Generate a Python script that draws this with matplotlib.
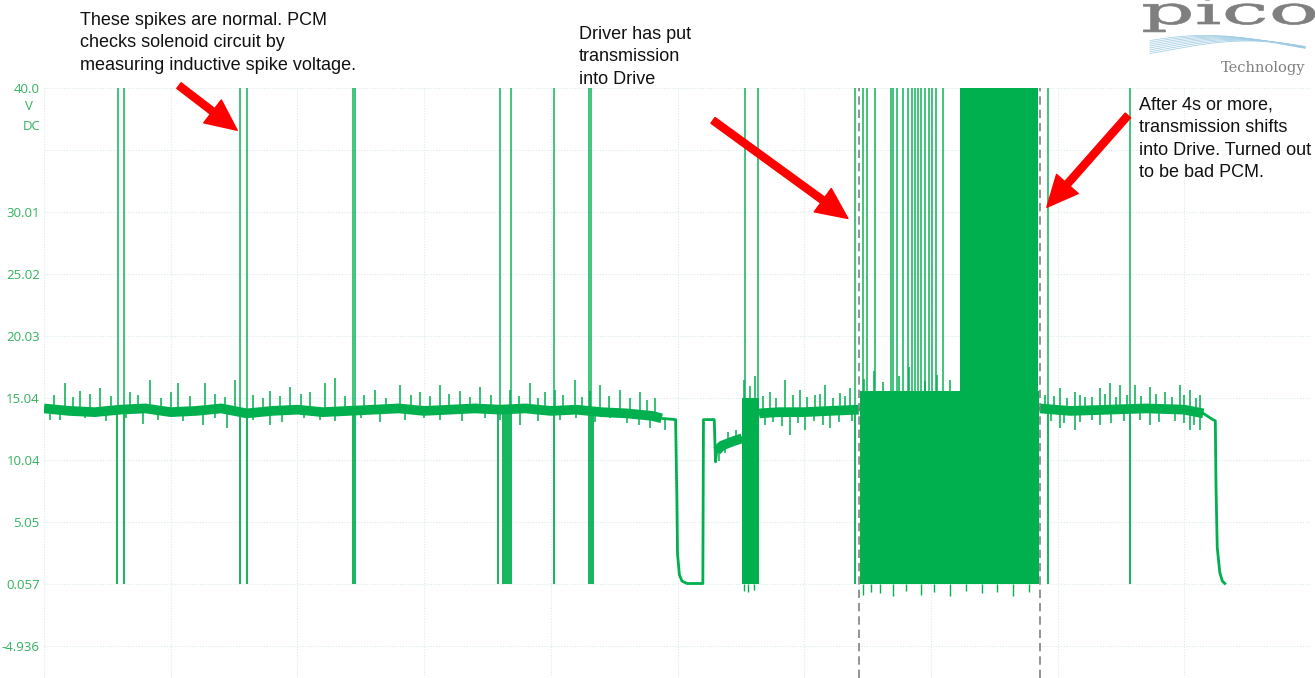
import numpy as np
import matplotlib.pyplot as plt
from matplotlib.patches import PathPatch
from matplotlib.textpath import TextPath
from matplotlib.font_manager import FontProperties
from matplotlib.transforms import Affine2D

plt.rcParams['font.family'] = ['Liberation Sans', 'DejaVu Sans']

W, H = 1315, 678

# --- scope trace (time in s, 2 s/div; volts) ---
trace_t = [0.0, 0.4, 0.8, 1.2, 1.6, 2.0, 2.4, 2.8, 3.2, 3.6, 4.0, 4.4, 4.8, 5.2, 5.6, 6.0,
           6.4, 6.8, 7.2, 7.6, 8.0, 8.4, 8.8, 9.2, 9.6, 9.75, 9.97,
           9.99, 10.00, 10.03, 10.07, 10.15, 10.40,
           10.41, 10.58, 10.60, 10.62, 10.70, 10.85, 11.02,
           11.29, 11.6, 12.0, 12.4, 12.86,
           15.72, 16.2, 16.8, 17.4, 18.0, 18.30, 18.45, 18.49, 18.50, 18.52, 18.56, 18.60, 18.64]
trace_v = [14.2, 14.0, 13.9, 14.1, 14.2, 13.9, 14.0, 14.2, 13.8, 14.0, 14.1, 13.9, 14.0, 14.1, 14.2, 14.0,
           14.1, 14.2, 14.1, 14.2, 14.0, 14.1, 13.9, 13.8, 13.6, 13.4, 13.3,
           7.0, 2.5, 0.8, 0.3, 0.1, 0.1,
           13.3, 13.3, 9.9, 10.8, 11.2, 11.5, 11.8,
           13.8, 13.9, 13.9, 14.0, 14.1,
           14.2, 14.0, 14.1, 14.2, 14.1, 13.8, 13.3, 13.2, 8.0, 3.0, 1.0, 0.3, 0.1]
noisy_spans = [(0.0, 9.75), (10.62, 11.02), (11.29, 12.86), (15.72, 18.30)]

# solenoid check spikes (clip at top of screen / drop to 0 V)
spike_up_t = [1.17, 1.26, 3.10, 3.20, 4.88, 4.91, 7.20, 7.37, 8.05, 8.60, 8.63,
              11.07, 11.27, 12.80, 12.93, 12.99, 13.12, 13.37, 13.40, 13.47, 13.56,
              13.64, 13.70, 13.75, 13.80, 13.84, 13.91, 13.97, 14.02, 14.08, 14.19,
              15.85, 17.14]
spike_down_t = [1.16, 1.26, 3.09, 3.20, 4.88, 4.91, 7.17, 7.25, 7.28, 7.31, 7.34, 7.37,
                8.05, 8.60, 8.63, 8.66, 12.80, 15.85, 17.14]
spike_top = 41.0
spike_floor = 0.05

# switching bursts (start, end, upper level)
burst_t0 = [11.02, 12.88]
burst_t1 = [11.29, 15.70]
burst_hi = [15.0, 15.6]
saturated_t0, saturated_t1 = 14.46, 15.69

# larger noise peaks riding on the supply level
peak_up_t = [0.33, 0.57, 0.88, 1.36, 1.67, 2.12, 2.54, 3.02, 3.57, 3.88, 4.20, 4.44, 4.59,
             5.22, 5.62, 5.94, 6.25, 6.57, 6.88, 7.36, 7.67, 7.91, 8.07, 8.38, 8.62, 8.78,
             9.09, 9.41, 9.65,
             10.80, 10.92,
             11.05, 11.15, 11.22,
             11.46, 11.70, 11.93, 12.17, 12.33, 12.57, 12.72,
             12.95, 13.10, 13.25, 13.50, 13.65, 13.90, 14.10, 14.30,
             15.80, 16.04, 16.27, 16.43, 16.67, 16.83, 16.99, 17.22, 17.46, 17.70, 17.93,
             18.09, 18.25]
peak_up_v = [16.25, 15.6, 15.84, 15.5, 16.49, 16.25, 16.25, 16.49, 15.6, 15.93, 15.5, 16.25, 16.65,
             15.7, 16.09, 15.5, 16.09, 15.6, 15.93, 15.7, 16.25, 15.5, 15.68, 16.49, 15.6, 16.09,
             15.68, 15.52, 15.04,
             12.3, 12.5,
             16.5, 16.0, 16.8,
             15.52, 16.49, 15.68, 15.28, 16.09, 15.44, 15.84,
             16.6, 17.2, 16.3, 16.8, 17.5, 16.4, 16.9, 16.5,
             15.28, 15.84, 15.52, 15.12, 15.84, 16.25, 16.09, 16.09, 15.93, 15.52, 16.09,
             15.68, 15.28]
peak_dn_t = [0.09, 1.56, 2.51, 2.89, 3.57, 4.36, 6.25, 6.96, 7.51, 8.15, 8.93, 9.57, 9.80,
             10.66, 10.75,
             11.38, 11.78, 12.01, 12.41,
             16.04, 16.27, 16.67, 17.46, 18.09, 18.25]
peak_dn_v = [13.27, 12.94, 12.86, 12.62, 12.86, 13.27, 13.27, 13.43, 12.86, 13.27, 13.43, 12.62, 12.46,
             10.0, 10.6,
             12.86, 12.06, 12.46, 12.62,
             12.62, 12.46, 12.86, 12.86, 12.46, 12.46]

# smaller ripple between the big peaks
ripple_up_t = [0.15, 0.45, 0.72, 1.05, 1.48, 1.85, 2.00, 2.30, 2.70, 2.85, 3.30, 3.45, 3.72, 4.05,
               4.75, 5.05, 5.40, 5.80, 6.10, 6.40, 6.72, 7.05, 7.50, 7.80, 8.20, 8.50, 8.92,
               9.25, 9.52,
               11.35, 11.55, 11.82, 12.05, 12.25, 12.45, 12.65,
               15.95, 16.15, 16.35, 16.55, 16.75, 16.92, 17.10, 17.32, 17.55, 17.80, 18.00, 18.18]
ripple_up_v = [15.3, 15.1, 15.4, 15.2, 15.3, 15.0, 15.5, 15.2, 15.4, 15.1, 15.3, 15.0, 15.2, 15.4,
               15.2, 15.3, 15.0, 15.3, 15.2, 15.4, 15.1, 15.3, 15.2, 15.0, 15.3, 15.1, 15.2,
               15.0, 14.9,
               15.2, 15.0, 15.3, 15.1, 15.4, 15.0, 15.2,
               15.2, 15.0, 15.3, 15.1, 15.4, 15.1, 15.3, 15.2, 15.4, 15.1, 15.3, 15.0]
ripple_dn_t = [0.25, 0.65, 0.98, 1.30, 1.80, 2.20, 2.70, 3.30, 3.75, 4.10, 4.60, 5.00, 5.30,
               5.70, 6.00, 6.60, 7.20, 7.80, 8.40, 8.70, 9.20, 9.40,
               11.50, 11.65, 11.90, 12.15, 12.30, 12.55, 12.75,
               15.90, 16.10, 16.35, 16.55, 16.85, 17.05, 17.30, 17.60, 17.85, 18.00, 18.15]
ripple_dn_v = [13.3, 13.4, 13.2, 13.4, 13.3, 13.2, 13.4, 13.3, 13.1, 13.4, 13.2, 13.4, 13.1,
               13.3, 13.4, 13.2, 13.3, 13.2, 13.4, 13.1, 13.0, 12.9,
               13.1, 12.8, 13.0, 13.2, 12.9, 13.1, 13.2,
               13.2, 13.0, 13.1, 13.3, 13.0, 13.2, 13.3, 13.1, 13.2, 13.0, 12.9]

floor_dip_t = [11.05, 11.12, 11.20, 12.93, 13.05, 13.20, 13.40, 13.60, 13.85, 14.05, 14.30,
               14.55, 14.80, 15.05, 15.30, 15.55]
floor_dip_v = [-0.5, -0.6, -0.4, -0.8, -0.6, -0.7, -0.9, -0.5, -0.8, -0.6, -0.9,
               -0.5, -0.7, -0.6, -0.9, -0.6]

cursor_t = [12.86, 15.72]

yticks = [-4.936, 0.057, 5.05, 10.04, 15.04, 20.03, 25.02, 30.01, 35.02, 40.0]
ytick_labels = ['-4.936', '0.057', '5.05', '10.04', '15.04', '20.03', '25.02', '30.01', '', '40.0']

GREEN = '#00b04f'
LABEL = '#33b25e'
GRID = '#dbe9e9'

fig = plt.figure(figsize=(W / 100, H / 100), dpi=100, facecolor='white')
ax = fig.add_axes([44 / W, 0, (1311 - 44) / W, 590 / H])
ax.set_xlim(0, 20)
ax.set_ylim(-7.51, 40.006)

# grid
ax.set_xticks(np.arange(0, 21, 2))
ax.set_yticks(yticks)
ax.set_yticklabels(ytick_labels)
ax.grid(True, color=GRID, linestyle=(0, (1, 1.5)), linewidth=0.8)
ax.set_axisbelow(True)
ax.tick_params(axis='x', labelbottom=False, length=0)
ax.tick_params(axis='y', length=0, pad=3, labelcolor=LABEL, labelsize=9.5)
for lab in ax.get_yticklabels():
    lab.set_fontfamily(['Open Sans', 'DejaVu Sans'])
for sp in ax.spines.values():
    sp.set_visible(False)

fig.text(29 / W, 1 - 107 / H, 'V', color=LABEL, fontsize=9.5, ha='center', va='center',
         family=['Open Sans', 'DejaVu Sans'])
fig.text(41 / W, 1 - 127 / H, 'DC', color=LABEL, fontsize=9.5, ha='right', va='center',
         family=['Open Sans', 'DejaVu Sans'])

t = np.array(trace_t)
v = np.array(trace_v)

# thin trace
ax.plot(t, v, color=GREEN, lw=2.0, zorder=3)
# thick noisy core
for a, b in noisy_spans:
    m = (t >= a) & (t <= b)
    ax.plot(t[m], v[m], color=GREEN, lw=7, solid_capstyle='butt', zorder=3)

# noise whiskers
for pt, pv in [(peak_up_t, peak_up_v), (ripple_up_t, ripple_up_v),
               (peak_dn_t, peak_dn_v), (ripple_dn_t, ripple_dn_v)]:
    ax.vlines(pt, np.interp(pt, t, v), pv, color=GREEN, lw=1.1, zorder=3)
ax.vlines(floor_dip_t, floor_dip_v, spike_floor, color=GREEN, lw=1.0, zorder=3)

# switching bursts
for a, b, hi in zip(burst_t0, burst_t1, burst_hi):
    ax.fill_between([a, b], spike_floor, hi, color=GREEN, lw=0, zorder=3)
ax.fill_between([saturated_t0, saturated_t1], spike_floor, spike_top, color=GREEN, lw=0, zorder=3)

# spikes
ax.vlines(spike_up_t, np.interp(spike_up_t, t, v), spike_top, color=GREEN, lw=1.3, alpha=0.8, zorder=3)
ax.vlines(spike_down_t, spike_floor, np.interp(spike_down_t, t, v), color=GREEN, lw=1.3, zorder=3)

# cursors
for c in cursor_t:
    ax.axvline(c, color='#808080', ls=(0, (5, 3)), lw=1.2, zorder=4)

# annotations
txt = dict(fontsize=13, color='#111111', va='top', ha='left', linespacing=1.42)
fig.text(80 / W, 1 - 12 / H,
         'These spikes are normal. PCM\nchecks solenoid circuit by\nmeasuring inductive spike voltage.', **txt)
fig.text(579 / W, 1 - 26 / H, 'Driver has put\ntransmission\ninto Drive', **txt)
fig.text(1139 / W, 1 - 97 / H,
         'After 4s or more,\ntransmission shifts\ninto Drive. Turned out\nto be bad PCM.', **txt)

arrow = dict(arrowstyle='simple,head_width=1.3,head_length=1.4,tail_width=0.32',
             mutation_scale=16, color='#ff0000', shrinkA=0, shrinkB=0)
ax.annotate('', xy=(3.05, 36.6), xytext=(2.13, 40.2), arrowprops=arrow, annotation_clip=False, zorder=6)
ax.annotate('', xy=(12.69, 29.5), xytext=(10.56, 37.4), arrowprops=arrow, annotation_clip=False, zorder=6)
ax.annotate('', xy=(15.83, 30.4), xytext=(17.11, 37.8), arrowprops=arrow, annotation_clip=False, zorder=6)

# logo
fp = FontProperties(family='DejaVu Serif')
tp = TextPath((0, 0), 'pico', size=1, prop=fp)
fig.add_artist(PathPatch(tp, transform=Affine2D().scale(84, 38).translate(1141, H - 24),
                         fc='#7f7f7f', ec='#7f7f7f', lw=0.5))
xs = np.linspace(1150, 1305, 120)
for k in range(8):
    ys = 50 - 9 * np.sin(np.pi * (xs - 1150) / 155 - 0.4 + k * 0.12) - k * 0.8
    fig.add_artist(plt.Line2D(xs / W, 1 - ys / H, color='#9fcbe4', lw=0.6, alpha=0.9))
fig.text(1305 / W, 1 - 68 / H, 'Technology', fontsize=10.5, color='#808080', ha='right',
         va='center', family='DejaVu Serif')

fig.savefig('out.png', dpi=100, facecolor='white')
